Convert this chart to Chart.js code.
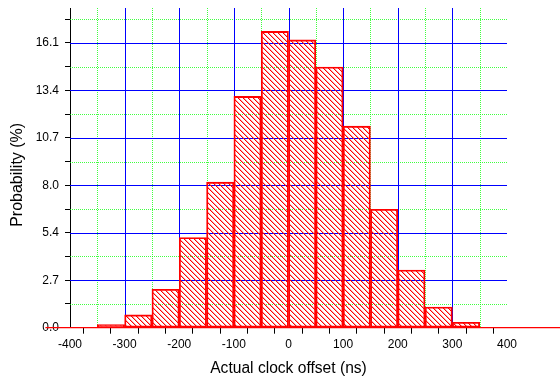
<!DOCTYPE html>
<html>
<head>
<meta charset="utf-8">
<script src="https://cdn.jsdelivr.net/npm/chart.js@4"></script>
<style>
  html, body { margin: 0; padding: 0; background: #fff; }
  #wrap { width: 560px; height: 382px; }
</style>
</head>
<body>
<div id="wrap"><canvas id="histogram"></canvas></div>
<script>
// Histogram of clock offsets, 50 ns bins
const binCenters = [-325, -275, -225, -175, -125, -75, -25, 25, 75, 125, 175, 225, 275, 325];
const probabilities = [0.17, 0.72, 2.17, 5.09, 8.22, 13.06, 16.73, 16.25, 14.72, 11.38, 6.69, 3.26, 1.17, 0.31];

// Baseline drawn by the plotting program, runs past the axes
const baselineX = [-445, 500];
const baselineY = [0, 0];

// Axis ticks (major + minor)
const xTicks = [-400, -350, -300, -250, -200, -150, -100, -50, 0, 50, 100, 150, 200, 250, 300, 350, 400];
const xMajorGrid = [-300, -200, -100, 0, 100, 200, 300];
const xMinorGrid = [-350, -250, -150, -50, 50, 150, 250, 350];
const yTicks = [0, 1.34, 2.68, 4.02, 5.36, 6.70, 8.04, 9.38, 10.72, 12.06, 13.40, 14.74, 16.08, 17.42];
const yMajorGrid = [2.68, 5.36, 8.04, 10.72, 13.40, 16.08];
const yMinorGrid = [1.34, 4.02, 6.70, 9.38, 12.06, 14.74, 17.42];

const yTitle = 'Probability (%)';
const FONT = '"Liberation Sans", Arial, sans-serif';

/**
 * Red diagonal hatch used to fill the bars
 */
function makeHatch() {
    const size = 5;
    const c = document.createElement('canvas');
    c.width = size;
    c.height = size;
    const g = c.getContext('2d');
    g.fillStyle = 'rgb(255,0,0)';
    for (let i = 0; i < size; i++) {
        g.fillRect(i, i, 1, 1);
    }
    g.fillStyle = 'rgba(255,0,0,0.35)';
    for (let i = 0; i < size; i++) {
        g.fillRect((i + 1) % size, i, 1, 1);
    }
    return g.createPattern(c, 'repeat');
}

// Grid lines: solid blue at major ticks, dotted green at minor ticks
const gridPlugin = {
    id: 'originGrid',
    beforeDatasetsDraw(chart) {
        const { ctx, chartArea: a, scales } = chart;
        ctx.save();
        ctx.lineWidth = 1;

        ctx.strokeStyle = 'rgba(0,255,0,0.75)';
        ctx.setLineDash([1, 1]);
        xMinorGrid.forEach(v => {
            const px = Math.round(scales.x.getPixelForValue(v)) + 0.5;
            ctx.beginPath();
            ctx.moveTo(px, a.top);
            ctx.lineTo(px, a.bottom);
            ctx.stroke();
        });
        yMinorGrid.forEach(v => {
            const py = Math.round(scales.y.getPixelForValue(v)) + 0.5;
            ctx.beginPath();
            ctx.moveTo(a.left, py);
            ctx.lineTo(a.right, py);
            ctx.stroke();
        });

        ctx.strokeStyle = 'rgb(0,0,255)';
        ctx.setLineDash([]);
        xMajorGrid.forEach(v => {
            const px = Math.round(scales.x.getPixelForValue(v)) + 0.5;
            ctx.beginPath();
            ctx.moveTo(px, a.top);
            ctx.lineTo(px, a.bottom);
            ctx.stroke();
        });
        yMajorGrid.forEach(v => {
            const py = Math.round(scales.y.getPixelForValue(v)) + 0.5;
            ctx.beginPath();
            ctx.moveTo(a.left, py);
            ctx.lineTo(a.right, py);
            ctx.stroke();
        });
        ctx.restore();
    },
    // y title sits a little below the axis centre in the original
    afterDraw(chart) {
        const { ctx, chartArea: a } = chart;
        ctx.save();
        ctx.translate(17.5, (a.top + a.bottom) / 2 + 7);
        ctx.rotate(-Math.PI / 2);
        ctx.fillStyle = '#000';
        ctx.font = '16px ' + FONT;
        ctx.textAlign = 'center';
        ctx.textBaseline = 'middle';
        ctx.fillText(yTitle, 0, 0);
        ctx.restore();
    }
};

document.addEventListener('DOMContentLoaded', function() {
    const canvas = document.getElementById('histogram');
    const ctx = canvas.getContext('2d');
    const font = { family: FONT };

    new Chart(ctx, {
        type: 'bar',
        data: {
            datasets: [
                {
                    type: 'line',
                    data: baselineX.map((x, i) => ({ x: x, y: baselineY[i] })),
                    borderColor: 'rgb(255,0,0)',
                    borderWidth: 1.3,
                    pointRadius: 0,
                    clip: false,
                    order: 0
                },
                {
                    label: 'Probability',
                    data: binCenters.map((x, i) => ({ x: x, y: probabilities[i] })),
                    backgroundColor: makeHatch(),
                    borderColor: 'rgb(255,0,0)',
                    borderWidth: 1.2,
                    borderSkipped: false,
                    barPercentage: 1,
                    categoryPercentage: 1,
                    order: 1
                }
            ]
        },
        options: {
            responsive: true,
            maintainAspectRatio: false,
            animation: false,
            layout: { padding: { left: 0, right: 53, top: 8, bottom: 0 } },
            plugins: {
                legend: { display: false },
                tooltip: { enabled: false }
            },
            scales: {
                x: {
                    type: 'linear',
                    min: -400,
                    max: 400,
                    offset: false,
                    afterBuildTicks: scale => { scale.ticks = xTicks.map(v => ({ value: v })); },
                    afterFit: scale => {
                        scale.height = 54.3;
                        scale.paddingLeft = 0;
                        scale.paddingRight = 0;
                    },
                    grid: {
                        drawOnChartArea: false,
                        drawTicks: true,
                        tickLength: 6,
                        tickColor: '#000'
                    },
                    border: { display: true, color: '#000', width: 1 },
                    ticks: {
                        autoSkip: false,
                        maxRotation: 0,
                        padding: 4,
                        color: '#000',
                        font: { ...font, size: 12 },
                        callback: value => (value % 100 === 0 ? String(value) : '')
                    },
                    title: {
                        display: true,
                        text: 'Actual clock offset (ns)',
                        color: '#000',
                        font: { ...font, size: 15.6 },
                        padding: { top: 0, bottom: 4 }
                    }
                },
                y: {
                    min: 0,
                    max: 18.05,
                    afterBuildTicks: scale => { scale.ticks = yTicks.map(v => ({ value: v })); },
                    afterFit: scale => {
                        scale.width = 70;
                        scale.paddingTop = 0;
                        scale.paddingBottom = 0;
                    },
                    grid: {
                        drawOnChartArea: false,
                        drawTicks: true,
                        tickLength: 5,
                        tickColor: '#000'
                    },
                    border: { display: true, color: '#000', width: 1 },
                    ticks: {
                        autoSkip: false,
                        padding: 6,
                        color: '#000',
                        font: { ...font, size: 12 },
                        callback: (value, index) => (index % 2 === 0 ? value.toFixed(1) : '')
                    }
                }
            }
        },
        plugins: [gridPlugin]
    });
});
</script>
</body>
</html>
